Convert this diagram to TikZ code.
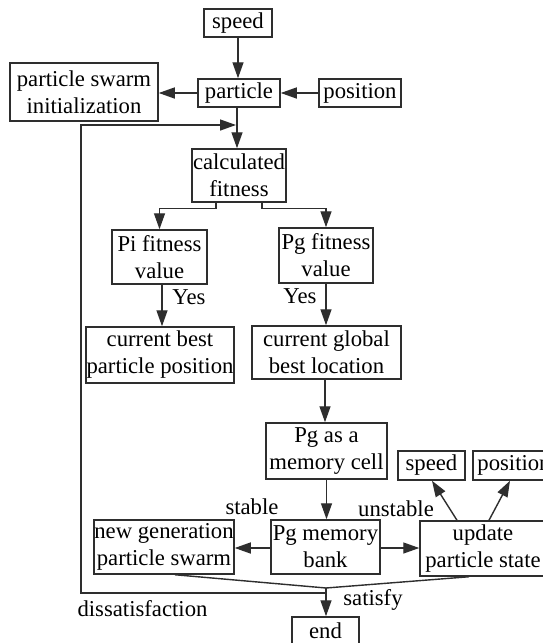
\documentclass[tikz,border=0pt]{standalone}
\usepackage{fontspec}
\setmainfont{Liberation Serif}
\usetikzlibrary{arrows.meta}
\definecolor{ink}{HTML}{2E2E2E}
\tikzset{
  box/.style={draw=ink, line width=1.5pt, inner sep=0pt, align=center, text=black,
    font=\fontsize{22.7}{27}\selectfont},
  lbl/.style={inner sep=0pt, text=black, font=\fontsize{22.7}{27}\selectfont},
  conn/.style={draw=ink, line width=1.4pt},
  arr/.style={conn, -{Triangle[length=16pt,width=11pt]}}
}
\begin{document}
\begin{tikzpicture}[x=1pt,y=-1pt]
\useasboundingbox[fill=white] (0,0) rectangle (542,643);
% nodes
\node[box, minimum width=68pt, minimum height=28pt] (speedA) at (238,23) {speed};
\node[box, minimum width=148pt, minimum height=58pt] (psi) at (84,92) {particle swarm\\initialization};
\node[box, minimum width=82pt, minimum height=28pt] (particle) at (239,93) {particle};
\node[box, minimum width=82pt, minimum height=28pt] (positionA) at (360,93) {position};
\node[box, minimum width=94pt, minimum height=53pt] (calc) at (239,175.5) {calculated\\fitness};
\node[box, minimum width=95pt, minimum height=54pt] (pi) at (159.5,257) {Pi fitness\\value};
\node[box, minimum width=94pt, minimum height=55pt] (pg) at (326,255.5) {Pg fitness\\value};
\node[box, minimum width=148pt, minimum height=56pt] (cbpp) at (160,355) {current best\\particle position};
\node[box, minimum width=149pt, minimum height=53pt] (cgbl) at (326.5,352.5) {current global\\best location};
\node[box, minimum width=121pt, minimum height=56pt] (cell) at (326.5,451) {Pg as a\\memory cell};
\node[box, minimum width=67pt, minimum height=29pt] (speedB) at (431.5,465.5) {speed};
\node[box, minimum width=82pt, minimum height=29pt] (positionB) at (514,465.5) {position};
\node[box, minimum width=140pt, minimum height=54pt] (newgen) at (164,547) {new generation\\particle swarm};
\node[box, minimum width=109pt, minimum height=54pt] (bank) at (325.5,547) {Pg memory\\bank};
\node[box, minimum width=126pt, minimum height=55pt] (update) at (483,548.5) {update\\particle state};
\node[box, minimum width=67pt, minimum height=28pt] (endn) at (325.5,631) {end};
% labels
\node[lbl] (yesA) at (189,297) {Yes};
\node[lbl] (yesB) at (300,296) {Yes};
\node[lbl] (stable) at (252,507) {stable};
\node[lbl] (unstable) at (396,509) {unstable};
\node[lbl] (satisfy) at (373,600) {satisfy};
\node[lbl] (dissat) at (142.5,609) {dissatisfaction};
% helper coordinates
\coordinate (merge) at (326,588);
\coordinate (fbS) at (326,593);
\coordinate (fbA) at (81,593);
\coordinate (fbB) at (81,125);
\coordinate (fbC) at (236,125);
% connectors
\draw[arr] (speedA.south) -- (speedA.south |- particle.north);
\draw[arr] (particle.west) -- (psi.east |- particle.west);
\draw[arr] (positionA.west) -- (particle.east);
\draw[arr] ([xshift=-2pt]particle.south) -- ([xshift=-2pt]particle.south |- calc.north);
\draw[arr] (fbS) -- (fbA) -- (fbB) -- (fbC);
\draw[arr] ([xshift=-23pt]calc.south) -- ++(0,6) -| (pi.north);
\draw[arr] ([xshift=23pt]calc.south) -- ++(0,6) -| (pg.north);
\draw[arr] ([xshift=2.5pt]pi.south) -- ([xshift=2.5pt]pi.south |- cbpp.north);
\draw[arr] (pg.south) -- (pg.south |- cgbl.north);
\draw[arr] ([xshift=-1.5pt]cgbl.south) -- ([xshift=-1.5pt]cgbl.south |- cell.north);
\draw[arr] (cell.south) -- (cell.south |- bank.north);
\draw[arr] (bank.west |- 0,548) -- (newgen.east |- 0,548);
\draw[arr] (bank.east |- 0,548) -- (update.west |- 0,548);
\draw[arr] ([xshift=-26pt]update.north) -- ([xshift=0.5pt]speedB.south);
\draw[arr] ([xshift=6pt]update.north) -- ([xshift=-4pt]positionB.south);
\draw[conn] ([xshift=11pt]newgen.south) -- (merge);
\draw[conn] ([xshift=-14pt]update.south) -- (merge);
\draw[arr] (merge) -- ([xshift=0.5pt]endn.north);
\end{tikzpicture}
\end{document}
